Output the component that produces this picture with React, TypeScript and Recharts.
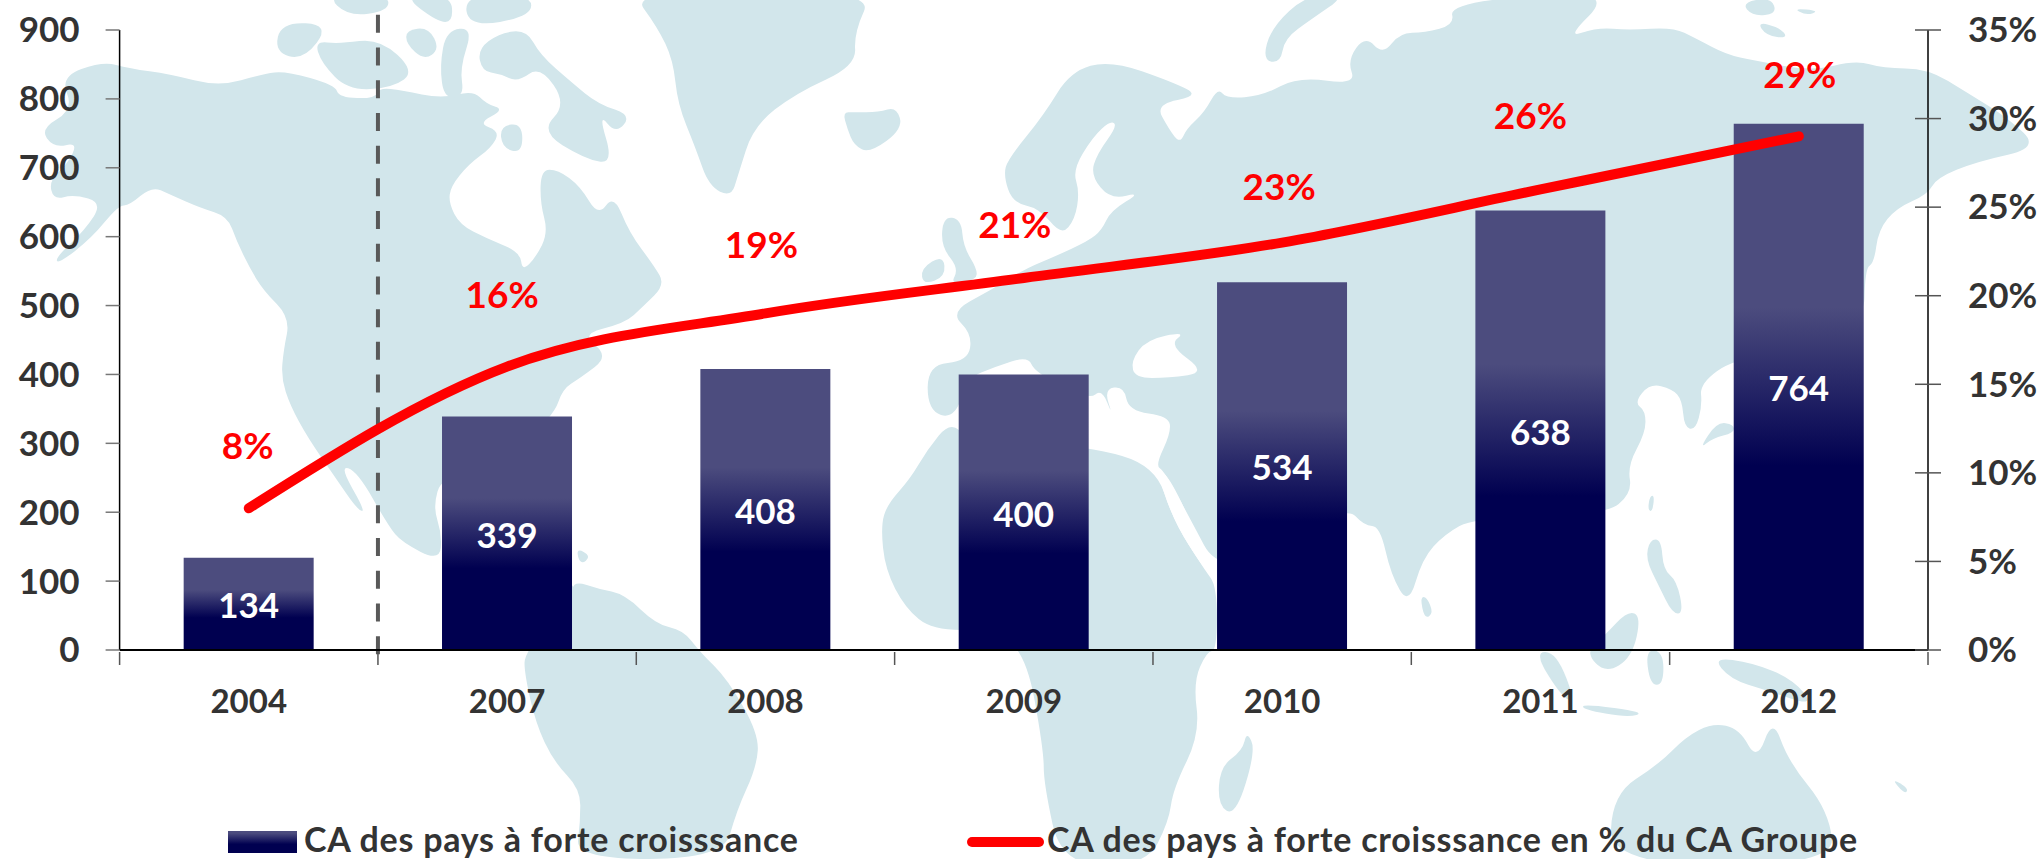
import React from "react";
import { Bar, ComposedChart, LabelList, Legend, Line, ReferenceLine, XAxis, YAxis } from "recharts";

const years = ["2004", "2007", "2008", "2009", "2010", "2011", "2012"];
const revenue = [134, 339, 408, 400, 534, 638, 764];
const shareOfGroup = [8, 16, 19, 21, 23, 26, 29];
const revenueTicks = [0, 100, 200, 300, 400, 500, 600, 700, 800, 900];
const shareTicks = [0, 5, 10, 15, 20, 25, 30, 35];
const barName = "CA des pays à forte croisssance";
const lineName = "CA des pays à forte croisssance en % du CA Groupe";

const rows = years.map((year, i) => ({ year, revenue: revenue[i], share: shareOfGroup[i] }));

// Layout only: how far each percentage label sits from its point.
const SHARE_LABEL_NUDGE = [[-1, -62], [-5, -72], [-4, -68], [-9, -53], [-3, -56], [-10, -73], [1, -61]];

const FONT = "Lato, Carlito, sans-serif";
const INK = "#333333";
const RED = "#FF0000";

// Decorative backdrop: the pale world map, traced by hand. Not data.
const MAP_WEST = [
  "135,140 230,112 290,125 380,135 490,158 590,135 640,130 750,155 760,178 840,180 850,160 900,165 990,180 1060,165 1090,190 1130,200 1070,225 1120,240 1100,270 1050,300 1010,340 1005,370 1030,410 1090,435 1165,460 1170,495 1200,470 1228,425 1210,370 1212,310 1250,310 1300,340 1340,395 1375,355 1410,425 1465,485 1490,520 1440,560 1400,590 1300,610 1365,650 1300,690 1260,710 1240,760 1100,860 990,870 970,925 990,975 985,1025 900,990 870,960 800,860 760,850 820,935 800,930 750,870 690,800 650,740 630,690 635,640 650,580 590,530 560,490 530,440 510,395 450,380 380,355 340,340 290,375 265,375 205,435 130,482 125,470 190,420 230,370 165,355 120,365 110,330 150,300 175,260 120,270 90,235 165,200",
  "990,1025 1281,1100 1300,1080 1200,1000 1100,1000",
  "1290,1000 1325,1015 1300,1032",
  "1175,1190 1281,1090 1285,1060 1340,1075 1400,1085 1470,1140 1530,1150 1568,1190 1630,1240 1700,1340 1695,1400 1650,1480 1620,1568 1290,1568 1300,1500 1300,1440 1240,1390 1200,1320 1175,1230",
  "1120,60 1180,55 1210,100 1280,150 1340,190 1415,210 1380,245 1340,205 1375,300 1310,290 1210,240 1270,190 1210,120 1160,150 1120,135 1080,130 1070,90",
  "630,40 740,45 680,110 615,95",
  "705,75 760,80 850,70 930,130 880,160 780,165 720,115",
  "1000,55 1060,50 1030,125 1040,175 995,180 985,120",
  "910,55 960,50 985,90 950,110 910,80",
  "730,-10 870,-10 870,20 780,30",
  "1040,-10 1190,-10 1190,30 1050,50",
  "900,-10 1010,-10 1015,40 980,40",
  "1120,230 1170,225 1170,280 1125,270",
];
const MAP_CENTRE = [
  "-158,-20 390,-20 345,60 350,120 215,170 120,230 85,320 70,360 20,340 -10,270 -50,190 -60,110 -95,50",
  "320,205 345,205 400,205 440,195 455,235 380,280 345,265 330,235",
  "545,395 585,400 590,450 620,490 620,510 560,520 580,490 540,450",
  "495,490 545,465 550,505 500,520",
  "1260,110 1280,50 1360,-10 1450,-10 1370,35 1310,70 1300,115",
  "680,320 690,290 770,210 830,130 920,110 1060,150 1120,175 1020,190 1050,235 1075,262 1090,235 1130,205 1160,160 1180,180 1260,175 1340,140 1470,155 1450,110 1490,65 1530,100 1568,60 1623,60 1690,45 1680,10 1870,-10 2040,-10 1940,70 2010,50 2080,55 2180,50 2230,70 2300,100 2360,110 2490,130 2590,110 2650,125 2750,125 2840,170 2930,215 3000,270 2860,295 2770,325 2750,355 2680,380 2640,420 2630,480 2610,490 2607,600 2316,655 2240,700 2245,740 2230,785 2205,780 2200,730 2178,710 2128,700 2093,735 2118,750 2118,790 2078,850 2088,900 2028,940 1735,945 1668,975 1618,1020 1588,1105 1548,1050 1523,960 1488,960 1449,925 1300,1000 1158,1040 1100,950 1040,860 1020,850 1055,790 1050,760 960,750 950,705 905,710 925,760 900,710 871,730 750,680 735,650 660,670 600,690 570,765 510,750 510,665 600,660 610,610 560,570 650,530 730,490 790,470 870,440 900,420 920,385 990,350 920,365 875,320 890,280 935,230 920,220 880,250 835,310 850,350 840,400 810,430 760,380 700,370",
  "510,820 560,770 600,800 871,815 1020,850 1060,950 1130,1040 1158,1070 1158,1187 1135,1190 1105,1245 1120,1340 1060,1440 1050,1500 1000,1580 810,1580 770,1430 770,1370 730,1190 650,1150 520,1150 460,1110 415,1040 405,960 420,920 470,875",
  "1225,1335 1245,1370 1200,1490 1160,1470 1165,1400 1215,1370",
];
const MAP_EAST = [
  "878,775 840,770 800,820 830,800 878,790",
  "175,1090 190,1090 205,1120 185,1130",
  "690,905 700,905 695,935 685,930",
  "690,985 715,985 720,1040 750,1060 765,1120 740,1120 710,1070 680,1020",
  "430,1190 480,1190 525,1285 490,1270",
  "540,1285 680,1300 640,1310 540,1295",
  "589,1160 640,1115 670,1125 650,1200 590,1230 545,1190",
  "680,1185 720,1190 720,1250 690,1250",
  "830,1200 920,1210 1010,1240 1060,1290 950,1260 870,1240",
  "605,1450 710,1395 770,1345 830,1320 890,1330 930,1390 965,1310 1000,1390 1090,1480 1105,1580 600,1580",
  "1230,1420 1270,1440 1260,1450",
  "895,5 960,-5 975,25 920,30",
  "1010,15 1070,20 1040,28",
  "930,40 980,50 1000,70 950,65",
];
const MAP_WATER = [
  "965,660 1000,620 1090,605 1050,630 1135,680 1050,690 975,690",
  "1020,850 1060,880 1150,1050 1130,1040 1060,950",
];

// Rounds the corners of a traced outline so the coast reads as a coast.
const roundOutline = (points: string) => {
  const pts = points.split(" ").map((p) => p.split(",").map(Number));
  const mid = (a: number[], b: number[]) => [(a[0] + b[0]) / 2, (a[1] + b[1]) / 2];
  const start = mid(pts[pts.length - 1], pts[0]);
  let d = `M${start[0]} ${start[1]}`;
  pts.forEach((p, i) => {
    const m = mid(p, pts[(i + 1) % pts.length]);
    d += ` Q${p[0]} ${p[1]} ${m[0]} ${m[1]}`;
  });
  return d + "Z";
};

const WorldMap = () => (
  <svg width={2042} height={859} style={{ position: "absolute", left: 0, top: 0 }}>
    <g fill="#D2E6EB">
      <g transform="translate(0 0) scale(0.4464 0.5478)">
        {MAP_WEST.map((p, i) => <path key={i} d={roundOutline(p)} />)}
      </g>
      <g transform="translate(700 0) scale(0.4464 0.5478)">
        {MAP_CENTRE.map((p, i) => <path key={i} d={roundOutline(p)} />)}
        {MAP_WATER.map((p, i) => <path key={i} d={roundOutline(p)} fill="#FFFFFF" />)}
      </g>
      <g transform="translate(1342 0) scale(0.4464 0.5478)">
        {MAP_EAST.map((p, i) => <path key={i} d={roundOutline(p)} />)}
      </g>
    </g>
  </svg>
);

const YearTick = ({ x, y, width, index, payload }: any) => {
  const band = width / years.length;
  const tick = (tx: number) => <line x1={tx} x2={tx} y1={y} y2={y + 13} stroke="#555555" strokeWidth={1.5} />;
  return (
    <g>
      {tick(x - band / 2)}
      {index === years.length - 1 ? tick(x + band / 2) : null}
      <text x={x} y={y + 49} dy="0.35em" textAnchor="middle" fontFamily={FONT} fontWeight={700} fontSize={33} fill={INK}>
        {payload.value}
      </text>
    </g>
  );
};

const ShareTick = ({ x, y, payload }: any) => (
  <g>
    <line x1={x - 13} x2={x + 13} y1={y} y2={y} stroke="#555555" strokeWidth={1.5} />
    <text x={x + 40} y={y} dy="0.35em" textAnchor="start" fontFamily={FONT} fontWeight={700} fontSize={35} fill={INK}>
      {`${payload.value}%`}
    </text>
  </g>
);

const ShareLabel = ({ x, y, index, value }: any) => {
  const [dx, dy] = SHARE_LABEL_NUDGE[index];
  return (
    <text x={x + dx} y={y + dy} dy="0.35em" textAnchor="middle" fontFamily={FONT} fontWeight={700} fontSize={37} fill={RED}>
      {`${value}%`}
    </text>
  );
};

const LegendBox = ({ payload }: any) => {
  const textStyle: React.CSSProperties = {
    position: "absolute", top: 10, lineHeight: "32px", fontFamily: FONT, fontWeight: 700,
    fontSize: 34, color: INK, whiteSpace: "nowrap", letterSpacing: 0.75,
  };
  const bar = (payload || []).find((p: any) => p.dataKey === "revenue");
  const line = (payload || []).find((p: any) => p.dataKey === "share");
  return (
    <div style={{ position: "relative", width: 2042, height: 46 }}>
      <div style={{ position: "absolute", left: 228, top: 18, width: 69, height: 22, background: "linear-gradient(#4C4C7E 10%, #000050 60%)" }} />
      <span style={{ ...textStyle, left: 304 }}>{bar?.value}</span>
      <div style={{ position: "absolute", left: 967, top: 24, width: 77, height: 10, borderRadius: 5, background: RED }} />
      <span style={{ ...textStyle, left: 1047 }}>{line?.value}</span>
    </div>
  );
};

export default function App() {
  return (
    <div style={{ position: "absolute", left: 0, top: 0, width: 2042, height: 859, overflow: "hidden", background: "#FFFFFF" }}>
      <WorldMap />
      <div style={{ position: "absolute", left: 0, top: 0 }}>
        <ComposedChart
          width={2042}
          height={859}
          data={rows}
          margin={{ top: 30, right: 0, bottom: 0, left: 0 }}
          barCategoryGap="24.8%"
          style={{ background: "transparent" }}
        >
          <defs>
            <linearGradient id="barFill" x1="0" y1="0" x2="0" y2="1">
              <stop offset="35%" stopColor="#4C4C7E" />
              <stop offset="65%" stopColor="#000050" />
            </linearGradient>
          </defs>
          <XAxis
            dataKey="year"
            height={163}
            interval={0}
            tickLine={false}
            tickSize={0}
            axisLine={{ stroke: "#000000", strokeWidth: 2 }}
            tick={<YearTick />}
          />
          <YAxis
            yAxisId="left"
            width={119.6}
            domain={[0, 900]}
            ticks={revenueTicks}
            interval={0}
            tickSize={14}
            tickMargin={26}
            tickLine={{ stroke: "#777777", strokeWidth: 1.5 }}
            axisLine={{ stroke: "#000000", strokeWidth: 1.5 }}
            tick={{ fontFamily: FONT, fontWeight: 700, fontSize: 35, fill: INK }}
          />
          <YAxis
            yAxisId="right"
            orientation="right"
            width={114}
            domain={[0, 35]}
            ticks={shareTicks}
            interval={0}
            tickSize={0}
            tickMargin={0}
            tickLine={false}
            axisLine={{ stroke: "#000000", strokeWidth: 1.5 }}
            tick={<ShareTick />}
          />
          <ReferenceLine
            yAxisId="left"
            ifOverflow="visible"
            position="start"
            segment={[{ x: "2007", y: 922 }, { x: "2007", y: -7 }]}
            stroke="#595959"
            strokeWidth={4}
            strokeDasharray="18 14.7"
          />
          <Bar yAxisId="left" dataKey="revenue" name={barName} fill="url(#barFill)" isAnimationActive={false}>
            <LabelList dataKey="revenue" position="center" fill="#FFFFFF" fontFamily={FONT} fontWeight={700} fontSize={35} dy={2} />
          </Bar>
          <Line
            yAxisId="right"
            dataKey="share"
            name={lineName}
            type="monotone"
            stroke={RED}
            strokeWidth={10}
            strokeLinecap="round"
            dot={false}
            activeDot={false}
            isAnimationActive={false}
            label={<ShareLabel />}
          />
          <Legend
            verticalAlign="bottom"
            content={<LegendBox />}
            wrapperStyle={{ width: 2042, left: 0, height: 46 }}
          />
        </ComposedChart>
      </div>
    </div>
  );
}
